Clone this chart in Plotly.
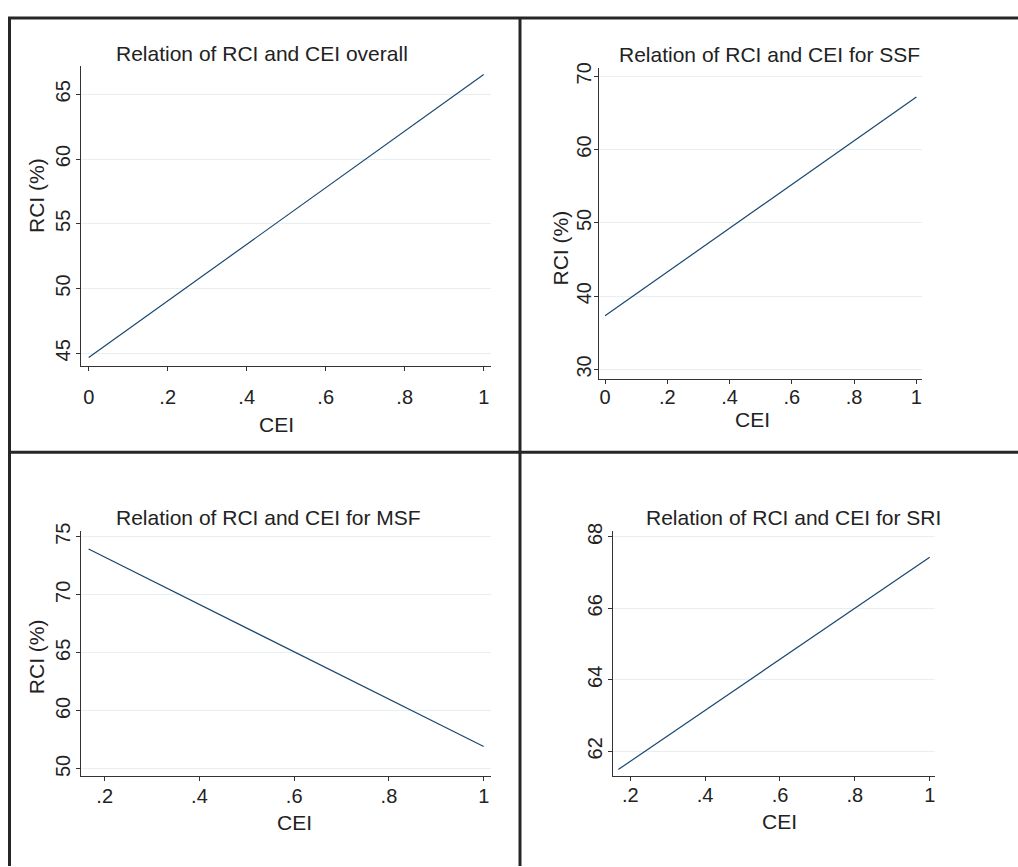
import plotly.graph_objects as go

W, H = 1018, 867

# ---- data ----
cei_overall = [0.0, 1.0]
rci_overall = [44.67, 66.53]

cei_ssf = [0.0, 1.0]
rci_ssf = [37.34, 67.16]

cei_msf = [0.166, 1.0]
rci_msf = [73.94, 56.93]

cei_sri = [0.168, 1.0]
rci_sri = [61.49, 67.43]

titles = ["Relation of RCI and CEI overall", "Relation of RCI and CEI for SSF",
          "Relation of RCI and CEI for MSF", "Relation of RCI and CEI for SRI"]

x_tickvals_full = [0, 0.2, 0.4, 0.6, 0.8, 1]
x_ticktext_full = ["0", ".2", ".4", ".6", ".8", "1"]
x_tickvals_part = [0.2, 0.4, 0.6, 0.8, 1]
x_ticktext_part = [".2", ".4", ".6", ".8", "1"]

y1_ticks = [45, 50, 55, 60, 65]
y1_text = ["45", "50", "55", "60", "65"]
y2_ticks = [30, 40, 50, 60, 70]
y2_text = ["30", "40", "50", "60", "70"]
y3_ticks = [55, 60, 65, 70, 75]
y3_text = ["50", "60", "65", "70", "75"]
y4_ticks = [62, 64, 66, 68]
y4_text = ["62", "64", "66", "68"]

FONT = "Liberation Sans, Arial, Helvetica, sans-serif"
LINE = "#1a476f"
AX = "#333333"
GRID = "#e7eff1"
TXT = "#222222"


def px(x):
    return x / W


def py(y):
    return 1 - y / H


fig = go.Figure()

panels = [
    dict(x=cei_overall, y=rci_overall, xd=(81, 491), yd=(59, 362),
         xr=(-0.0195, 1.0185), yr=(44.0, 67.16),
         xt=(x_tickvals_full, x_ticktext_full), yt=(y1_ticks, y1_text),
         title=(262, 46), xtitle=(276, 420.5), ytitle=(36, 190),
         xstand=9, ystand=-2),
    dict(x=cei_ssf, y=rci_ssf, xd=(599, 922), yd=(61, 374.7),
         xr=(-0.0193, 1.018), yr=(28.73, 71.08),
         xt=(x_tickvals_full, x_ticktext_full), yt=(y2_ticks, y2_text),
         title=(769.5, 46.5), xtitle=(752.5, 415.5), ytitle=(560, 243),
         xstand=-4, ystand=-5),
    dict(x=cei_msf, y=rci_msf, xd=(81, 491), yd=(528.3, 776),
         xr=(0.15, 1.0154), yr=(54.4, 75.51),
         xt=(x_tickvals_part, x_ticktext_part), yt=(y3_ticks, y3_text),
         title=(268.8, 514.5), xtitle=(294, 823.3), ytitle=(36, 656),
         xstand=-2, ystand=-2),
    dict(x=cei_sri, y=rci_sri, xd=(612.7, 935.3), yd=(528.3, 776),
         xr=(0.153, 1.015), yr=(61.31, 68.17),
         xt=(x_tickvals_part, x_ticktext_part), yt=(y4_ticks, y4_text),
         title=(793, 514.5), xtitle=(779, 821.7), ytitle=None,
         xstand=-3, ystand=-2),
]

layout = {}
annotations = []
for i, p in enumerate(panels, start=1):
    xa = "xaxis" if i == 1 else f"xaxis{i}"
    ya = "yaxis" if i == 1 else f"yaxis{i}"
    xref = "x" if i == 1 else f"x{i}"
    yref = "y" if i == 1 else f"y{i}"
    fig.add_trace(go.Scatter(x=p["x"], y=p["y"], mode="lines",
                             line=dict(color=LINE, width=1.2),
                             xaxis=xref, yaxis=yref, showlegend=False,
                             hoverinfo="skip"))
    layout[xa] = dict(domain=[px(p["xd"][0]), px(p["xd"][1])], range=list(p["xr"]),
                      anchor=yref, showline=True, linecolor=AX, linewidth=1,
                      ticks="outside", ticklen=4, tickcolor=AX, tickwidth=1,
                      tickvals=p["xt"][0], ticktext=p["xt"][1],
                      showgrid=False, zeroline=False,
                      tickfont=dict(family=FONT, size=20, color=TXT),
                      ticklabelstandoff=p["xstand"], fixedrange=True)
    layout[ya] = dict(domain=[py(p["yd"][1]), py(p["yd"][0])], range=list(p["yr"]),
                      anchor=xref, showline=True, linecolor=AX, linewidth=1,
                      ticks="outside", ticklen=4, tickcolor=AX, tickwidth=1,
                      tickvals=p["yt"][0], ticktext=p["yt"][1], tickangle=-90,
                      showgrid=True, gridcolor=GRID, gridwidth=1, zeroline=False,
                      tickfont=dict(family=FONT, size=20, color=TXT),
                      ticklabelstandoff=p["ystand"], fixedrange=True)
    annotations.append(dict(text=titles[i - 1], x=px(p["title"][0]), y=py(p["title"][1]),
                            xref="paper", yref="paper", xanchor="center", yanchor="middle",
                            showarrow=False,
                            font=dict(family=FONT, size=21, color=TXT)))
    annotations.append(dict(text="CEI", x=px(p["xtitle"][0]), y=py(p["xtitle"][1]),
                            xref="paper", yref="paper", xanchor="center", yanchor="middle",
                            showarrow=False,
                            font=dict(family=FONT, size=21, color=TXT)))
    if p["ytitle"] is not None:
        annotations.append(dict(text="RCI (%)", x=px(p["ytitle"][0]), y=py(p["ytitle"][1]),
                                xref="paper", yref="paper", xanchor="center", yanchor="middle",
                                textangle=-90, showarrow=False,
                                font=dict(family=FONT, size=21, color=TXT)))

BORDER = "#262626"
shapes = [
    dict(type="line", xref="paper", yref="paper", x0=px(8), x1=1.0, y0=py(10), y1=py(10),
         line=dict(color=BORDER, width=3)),
    dict(type="line", xref="paper", yref="paper", x0=px(9.5), x1=px(9.5), y0=py(9), y1=0,
         line=dict(color=BORDER, width=3)),
    dict(type="line", xref="paper", yref="paper", x0=px(520), x1=px(520), y0=py(9), y1=0,
         line=dict(color=BORDER, width=3)),
    dict(type="line", xref="paper", yref="paper", x0=px(8), x1=1.0, y0=py(449), y1=py(449),
         line=dict(color=BORDER, width=3)),
]

fig.update_layout(width=W, height=H, margin=dict(l=0, r=0, t=0, b=0),
                  paper_bgcolor="white", plot_bgcolor="white",
                  annotations=annotations, shapes=shapes, showlegend=False,
                  **layout)

fig.write_html("out.html", config={"displayModeBar": False})
